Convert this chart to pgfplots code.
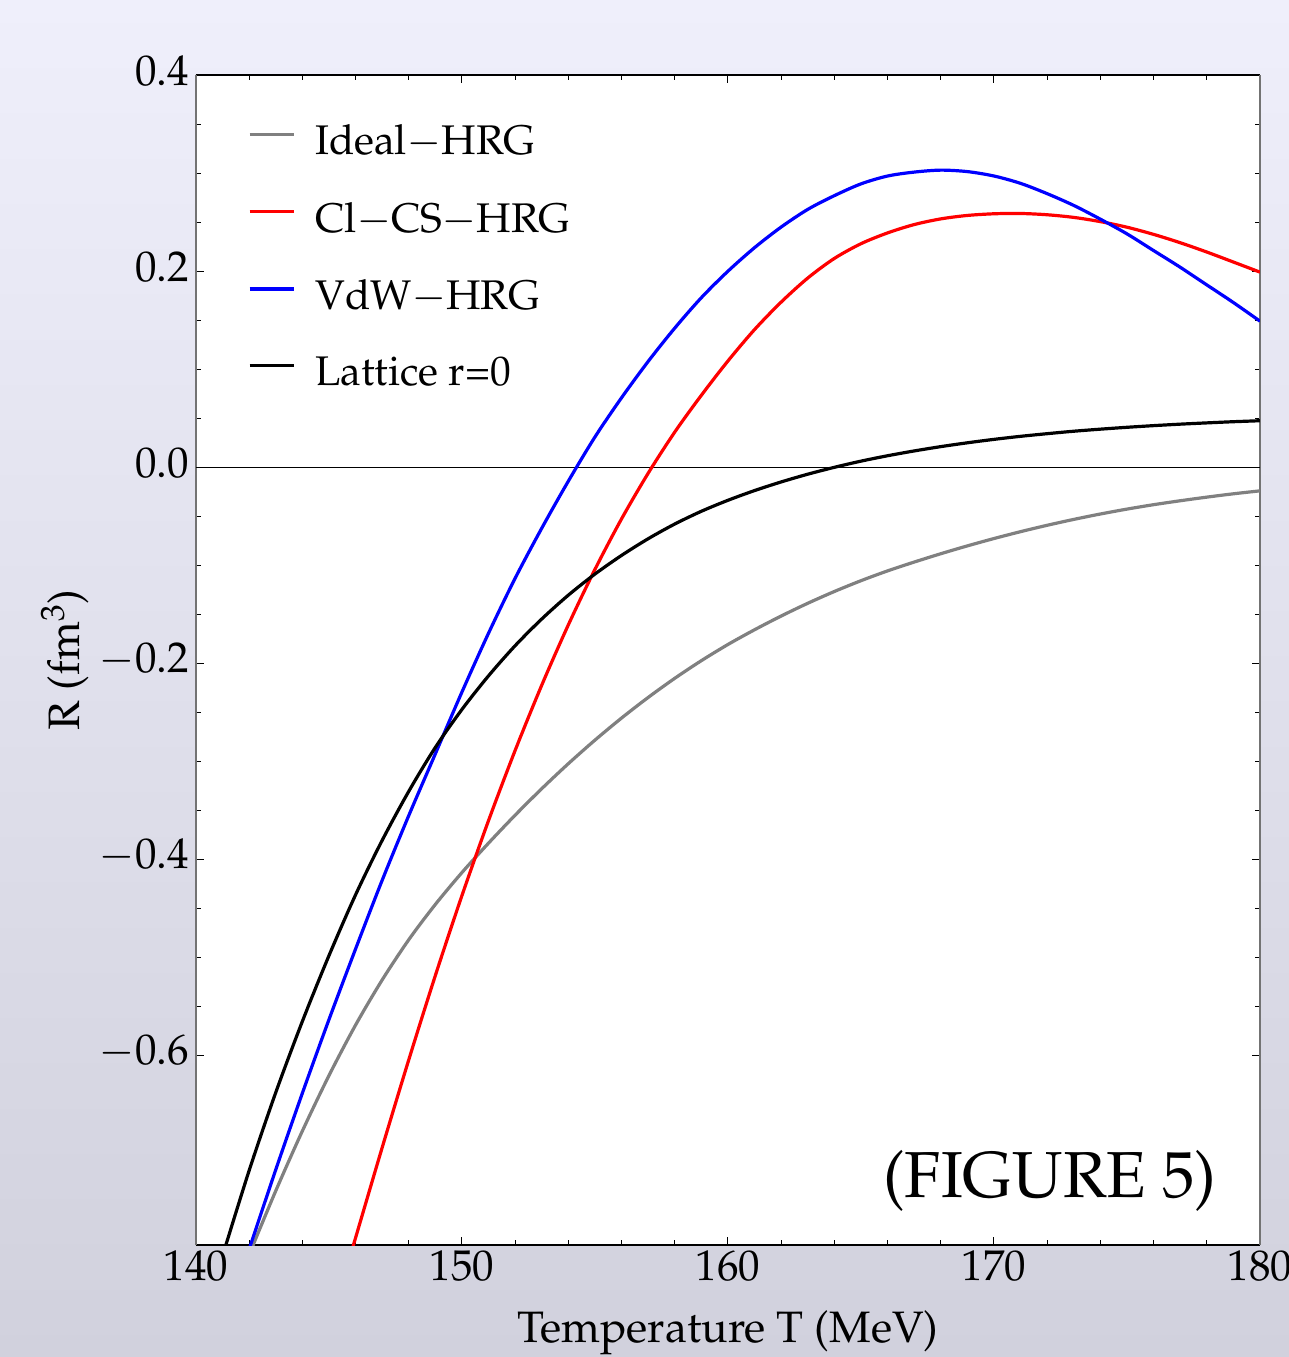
\documentclass[border=0pt]{standalone}
\usepackage[T1]{fontenc}
\usepackage{mathpazo}
\usepackage{pgfplots}
\pgfplotsset{compat=1.18}
\definecolor{bgtop}{RGB}{239,239,251}
\definecolor{bgbot}{RGB}{209,209,221}
\definecolor{idealgray}{RGB}{128,128,128}
\newcommand{\tickfont}{\fontsize{21.5}{25}\selectfont}
\newcommand{\legfont}{\fontsize{20.7}{24}\selectfont}
\newcommand{\labfont}{\fontsize{22}{26}\selectfont}
\begin{document}
\begin{tikzpicture}
\shade[top color=bgtop, bottom color=bgbot] (-98pt,-56pt) rectangle (546.5pt,622.5pt);
\begin{axis}[
  scale only axis,
  width=532pt, height=585pt,
  xmin=140, xmax=180, ymin=-0.7929, ymax=0.4,
  axis background/.style={fill=white},
  separate axis lines,
  x axis line style={black, line width=0.7pt},
  y axis line style={black!55, line width=0.7pt},
  xtick={140,150,160,170,180},
  minor x tick num=4,
  ytick={-0.6,-0.4,-0.2,0,0.2,0.4},
  minor y tick num=3,
  major tick length=4pt, minor tick length=2.5pt,
  tick style={black, line width=0.5pt},
  yticklabel style={/pgf/number format/fixed, /pgf/number format/fixed zerofill, /pgf/number format/precision=1, yshift=2pt},
  xticklabel style={yshift=1pt},
  ticklabel style={font=\tickfont},
  xlabel={Temperature T (MeV)},
  ylabel={R (fm$^3$)},
  label style={font=\labfont},
  xlabel style={at={(axis description cs:0.5,0)}, anchor=base, yshift=-48.5pt},
  ylabel style={at={(axis description cs:-0.1231,0.5)}, anchor=center},
  legend style={draw=none, fill=none, at={(axis description cs:0,1)}, anchor=north west,
    xshift=26pt, yshift=-25pt, inner sep=0pt, outer sep=0pt, row sep=22.1pt, column sep=10pt,
    font=\legfont, nodes={inner sep=0pt}, cells={anchor=west}},
  legend image code/.code={\draw[#1, line width=1.6pt] (0pt,0.34em) -- (22pt,0.34em);},
  every axis plot/.append style={line width=1.6pt},
]
\addplot[black, line width=0.7pt, forget plot] coordinates {(140,0) (180,0)};
% Ideal-HRG
\addplot[idealgray, smooth] coordinates {
(141.8,-0.816) (142,-0.8026) (143,-0.7376) (144,-0.6766) (145,-0.6201) (146,-0.5686) (147,-0.5226)
(148,-0.4816) (149,-0.4456) (150,-0.4131) (151,-0.3831) (152,-0.3546) (153,-0.3276)
(154,-0.3021) (155,-0.2781) (156,-0.2556) (157,-0.2346) (158,-0.2151) (159,-0.1971)
(160,-0.1806) (161,-0.1656) (162,-0.1516) (163,-0.1386) (164,-0.1266) (165,-0.1156)
(166,-0.1056) (167,-0.0966) (168,-0.0881) (169,-0.0801) (170,-0.0726) (171,-0.0656)
(172,-0.0591) (173,-0.0531) (174,-0.0476) (175,-0.0426) (176,-0.0381) (177,-0.0341)
(178,-0.0304) (179,-0.0270) (180,-0.0240)};
\addlegendentry{Ideal$-$HRG}
% Cl-CS-HRG
\addplot[red, smooth] coordinates {
(145.8,-0.804) (146,-0.7855) (147,-0.6935) (148,-0.6040) (149,-0.5180) (150,-0.4365)
(151,-0.3600) (152,-0.2885) (153,-0.2220) (154,-0.1605) (155,-0.1040) (156,-0.0525)
(157,-0.0060) (158,0.0360) (159,0.0735) (160,0.1085) (161,0.1405) (162,0.1685)
(163,0.1930) (164,0.2130) (165,0.2280) (166,0.2390) (167,0.2475) (168,0.2533)
(169,0.2568) (170,0.2585) (171,0.2588) (172,0.2575) (173,0.2548) (174,0.2505)
(175,0.2448) (176,0.2375) (177,0.2290) (178,0.2195) (179,0.2093) (180,0.1990)};
\addlegendentry{Cl$-$CS$-$HRG}
% VdW-HRG
\addplot[blue, smooth] coordinates {
(141.8,-0.812) (142,-0.797) (143,-0.716) (144,-0.638) (145,-0.563) (146,-0.491) (147,-0.421)
(148,-0.355) (149,-0.292) (150,-0.229) (151,-0.169) (152,-0.113) (153,-0.062)
(154,-0.014) (155,0.031) (156,0.071) (157,0.108) (158,0.142) (159,0.173) (160,0.200)
(161,0.224) (162,0.245) (163,0.263) (164,0.277) (165,0.289) (166,0.297) (167,0.301)
(168,0.303) (169,0.3015) (170,0.297) (171,0.2895) (172,0.279) (173,0.267) (174,0.253)
(175,0.238) (176,0.221) (177,0.204) (178,0.186) (179,0.168) (180,0.149)};
\addlegendentry{VdW$-$HRG}
% Lattice r=0
\addplot[black, smooth] coordinates {
(141.0,-0.8038) (142,-0.7168) (143,-0.6373) (144,-0.5648) (145,-0.4978) (146,-0.4358)
(147,-0.3803) (148,-0.3303) (149,-0.2855) (150,-0.2468) (151,-0.2125) (152,-0.1818)
(153,-0.1546) (154,-0.1303) (155,-0.1088) (156,-0.0898) (157,-0.0728) (158,-0.0578)
(159,-0.0448) (160,-0.0336) (161,-0.0237) (162,-0.0149) (163,-0.0070) (164,0.0000)
(165,0.0063) (166,0.0118) (167,0.0167) (168,0.0211) (169,0.0250) (170,0.0285)
(171,0.0316) (172,0.0343) (173,0.0368) (174,0.0389) (175,0.0408) (176,0.0425)
(177,0.0440) (178,0.0453) (179,0.0465) (180,0.0475)};
\addlegendentry{Lattice r=0}
\node[anchor=base east, inner sep=0pt, font=\fontsize{32.5}{36}\selectfont] at (rel axis cs:0.9596,0.0402) {(FIGURE 5)};
\end{axis}
\pgfresetboundingbox
\path[use as bounding box] (-98pt,-56pt) rectangle (546.5pt,622.5pt);
\end{tikzpicture}
\end{document}
